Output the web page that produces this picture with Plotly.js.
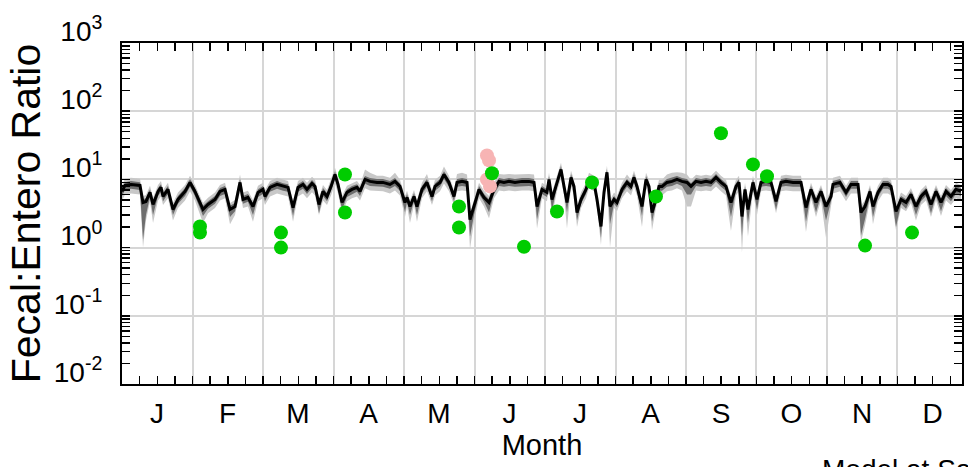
<!DOCTYPE html>
<html>
<head>
<meta charset="utf-8">
<script src="https://cdn.plot.ly/plotly-3.0.1.min.js"></script>
<style>html,body{margin:0;padding:0;background:#fff;}#chart{width:968px;height:467px;}</style>
</head>
<body>
<div id="chart"></div>
<script>
// x positions in months from start of year
const monthPos = [
0.000,0.043,0.128,0.255,0.298,0.340,0.397,0.440,0.511,0.553,0.582,0.652,0.723,0.794,0.894,0.965,1.035,1.149,1.220,1.319,1.390,1.461,1.532,1.603,1.674,1.716,1.787,1.858,1.929,
2.000,2.028,2.099,2.199,2.284,2.355,2.426,2.496,2.567,2.624,2.695,2.738,2.794,2.851,2.908,2.965,3.021,3.064,3.121,3.191,3.262,3.333,3.376,3.447,3.518,3.617,3.702,3.801,3.872,3.943,4.014,
4.043,4.085,4.142,4.184,4.255,4.326,4.397,4.440,4.511,4.567,4.638,4.709,4.752,4.823,4.894,4.936,4.993,5.064,5.135,5.206,5.277,5.348,5.418,5.489,5.574,5.674,5.773,5.844,5.887,5.957,
6.028,6.057,6.099,6.170,6.227,6.270,6.312,6.369,6.411,6.454,6.511,6.582,6.624,6.695,6.738,6.794,6.837,6.879,6.922,6.979,7.021,7.092,7.163,7.220,7.262,7.305,7.376,7.433,7.475,7.518,7.574,7.617,7.660,7.730,7.801,7.872,7.943,8.014,
8.071,8.142,8.213,8.284,8.355,8.426,8.496,8.567,8.638,8.709,8.752,8.794,8.837,8.879,8.950,9.007,9.064,9.135,9.206,9.277,9.348,9.418,9.518,9.631,9.702,9.773,9.844,9.915,9.986,
10.057,10.085,10.184,10.270,10.340,10.440,10.482,10.539,10.610,10.652,10.723,10.794,10.865,10.908,10.979,11.050,11.121,11.191,11.262,11.333,11.404,11.475,11.546,11.617,11.688,11.759,11.830,11.901];

// model median Fecal:Entero ratio
const modelMedian = [
6.66,8.16,8.44,8.16,4.59,4.75,6.44,4.29,6.66,7.63,5.62,7.13,3.62,5.08,6.66,9.03,6.66,3.62,4.29,5.08,6.66,7.13,3.62,4.01,9.03,5.08,5.43,4.01,6.44,
7.13,5.62,7.63,8.44,7.89,7.63,3.87,7.63,8.44,7.13,8.73,7.89,4.29,6.66,5.62,7.89,11.8,8.44,4.59,6.44,7.13,7.63,6.66,10.0,9.35,9.03,9.03,8.44,9.35,7.89,4.59,
5.43,4.01,5.62,4.01,7.13,9.03,5.62,7.89,9.03,11.8,9.03,5.62,9.03,9.35,9.03,2.58,4.01,7.13,5.43,4.59,7.13,9.35,9.03,9.35,9.03,9.35,9.35,9.03,4.01,7.13,
6.44,10.0,5.08,9.03,14.0,7.89,4.59,10.7,7.89,3.27,5.08,7.13,10.0,9.03,5.08,2.04,6.44,12.7,4.01,5.08,4.59,7.13,9.03,7.89,10.7,7.89,4.01,10.0,7.89,3.27,5.08,7.89,7.89,9.03,9.35,10.0,9.35,9.03,
7.89,9.35,9.03,9.35,9.03,10.7,9.03,7.89,4.59,7.89,9.03,2.86,7.13,3.62,9.03,5.08,9.03,9.35,9.03,4.75,9.03,9.35,9.03,9.03,3.87,7.13,4.59,6.66,4.01,
5.62,8.44,9.03,6.44,8.44,8.44,3.27,4.01,6.66,4.01,6.44,8.44,8.44,7.89,3.38,5.08,4.59,6.02,4.01,5.62,6.66,4.29,6.66,4.59,6.66,5.62,7.13,6.66];

// outer (light) band
const outerLow = [
4.9,6.0,6.2,6.0,1.0,2.5,4.8,2.3,4.9,5.6,4.2,5.3,2.5,3.8,4.9,6.7,4.9,2.3,3.2,3.8,4.9,5.3,2.2,3.0,6.7,3.8,4.0,2.4,4.8,
5.3,4.2,5.6,6.2,5.8,5.6,2.4,5.6,6.2,5.3,6.5,5.8,3.0,4.9,4.2,5.8,8.7,6.2,3.2,4.8,5.3,5.6,4.9,7.4,6.9,6.7,6.7,6.2,6.9,5.8,2.8,
4.0,2.3,4.2,2.4,5.3,6.7,4.2,5.8,6.7,8.7,6.7,4.2,6.7,6.9,6.7,0.95,2.4,5.3,4.0,2.7,5.3,6.9,6.7,6.9,6.7,6.9,6.9,6.7,1.9,5.3,
4.8,7.4,2.9,6.7,10.4,5.8,1.9,7.9,5.8,2.0,3.8,5.3,7.4,6.7,3.8,1.1,4.8,9.4,1.0,3.8,3.4,5.3,6.7,5.8,7.9,5.8,2.0,7.4,5.8,1.8,3.8,5.8,5.8,6.7,6.9,7.4,6.9,4.0,
4.0,6.9,6.7,6.9,6.7,7.9,6.7,5.8,1.75,5.8,6.7,0.85,5.3,1.45,6.7,3.0,6.7,6.9,6.7,3.2,6.7,6.9,6.7,6.7,1.7,5.3,2.8,4.9,1.4,
4.2,6.2,6.7,4.8,6.2,6.2,1.2,2.1,4.9,2.2,4.8,6.2,6.2,5.8,1.8,3.8,3.4,4.5,2.5,4.2,4.9,2.8,4.9,2.9,4.9,4.2,5.3,4.9];
const outerHigh = [
8.3,10.2,10.6,10.2,5.7,5.9,8.1,5.4,8.3,9.5,7.0,8.9,4.5,6.4,8.3,11.3,8.3,4.5,5.4,6.4,8.3,8.9,4.5,5.0,11.8,6.4,6.8,5.0,8.1,
8.9,7.0,9.5,10.6,9.9,9.5,4.8,9.5,10.6,8.9,10.9,9.9,5.4,8.3,7.0,9.9,14.8,10.6,5.7,8.1,8.9,9.5,8.3,14.0,12.5,11.3,11.3,10.6,12.5,9.9,5.7,
6.8,5.0,7.0,5.0,8.9,12.0,7.0,9.9,11.3,15.5,11.3,7.0,12.0,12.5,11.8,3.2,5.0,8.9,6.8,5.7,8.9,12.0,11.8,12.0,11.8,12.0,12.0,11.8,5.0,8.9,
8.1,12.5,6.4,11.3,17.5,9.9,5.7,13.4,9.9,4.1,6.4,8.9,12.5,11.3,6.4,2.6,8.1,15.9,5.0,6.4,5.7,8.9,11.8,9.9,13.4,9.9,5.0,12.5,9.9,4.1,6.4,9.9,9.9,11.8,12.5,12.7,12.5,11.8,
9.9,11.7,11.3,11.7,11.3,13.4,11.3,9.9,5.7,9.9,11.3,3.6,8.9,4.5,11.3,6.4,11.3,11.7,11.3,5.9,11.3,11.7,11.3,11.3,4.8,8.9,5.7,8.3,5.0,
7.0,10.6,11.3,8.1,10.6,10.6,4.1,5.0,8.3,5.0,8.1,10.6,10.6,9.9,4.2,6.4,5.7,7.5,5.0,7.0,8.3,5.4,8.3,5.7,8.3,7.0,8.9,8.3];

// inner (dark) band
const innerLow = [
5.7,7.0,7.3,7.0,1.3,3.0,5.5,3.0,5.7,6.6,4.8,6.1,3.0,4.4,5.7,7.8,5.7,2.9,3.7,4.4,5.7,6.1,2.8,3.4,7.8,4.4,4.7,3.0,5.5,
6.1,4.8,6.6,7.3,6.8,6.6,2.9,6.6,7.3,6.1,7.5,6.8,3.2,5.7,4.8,6.8,10.1,7.3,3.6,5.5,6.1,6.6,5.7,8.6,8.0,7.8,7.8,7.3,8.0,6.8,3.3,
4.7,3.0,4.8,3.0,6.1,7.8,4.8,6.8,7.8,10.1,7.8,4.8,7.8,8.0,7.8,1.45,3.0,6.1,4.7,3.3,6.1,8.0,7.8,8.0,7.8,8.0,8.0,7.8,2.6,6.1,
5.5,8.6,3.5,7.8,12.0,6.8,3.3,9.2,6.8,2.5,4.4,6.1,8.6,7.8,4.4,1.4,5.5,10.9,2.2,4.4,3.9,6.1,7.8,6.8,9.2,6.8,2.9,8.6,6.8,2.4,4.4,6.8,6.8,7.8,8.0,8.6,8.0,6.0,
6.0,8.0,7.8,8.0,7.8,9.2,7.8,6.8,2.8,6.8,7.8,1.5,6.1,2.3,7.8,3.6,7.8,8.0,7.8,3.6,7.8,8.0,7.8,7.8,2.4,6.1,3.3,5.7,2.5,
4.8,7.3,7.8,5.5,7.3,7.3,1.5,2.6,5.7,2.8,5.5,7.3,7.3,6.8,2.0,4.4,3.7,5.2,3.0,4.8,5.7,3.2,5.7,3.4,5.7,4.8,6.1,5.7];
const innerHigh = [
7.5,9.1,9.5,9.1,5.1,5.3,7.2,4.8,7.5,8.5,6.3,8.0,4.1,5.7,7.5,10.1,7.5,4.1,4.8,5.7,7.5,8.0,4.1,4.5,10.1,5.7,6.1,4.5,7.2,
8.0,6.3,8.5,9.5,8.8,8.5,4.3,8.5,9.5,8.0,9.8,8.8,4.8,7.5,6.3,8.8,13.2,9.5,5.1,7.2,8.0,8.5,7.5,11.2,10.5,10.1,10.1,9.5,10.5,8.8,5.1,
6.1,4.5,6.3,4.5,8.0,10.1,6.3,8.8,10.1,13.2,10.1,6.3,10.1,10.5,10.1,2.9,4.5,8.0,6.1,5.1,8.0,10.5,10.1,10.5,10.1,10.5,10.5,10.1,4.5,8.0,
7.2,11.2,5.7,10.1,15.7,8.8,5.1,12.0,8.8,3.7,5.7,8.0,11.2,10.1,5.7,2.3,7.2,14.2,4.5,5.7,5.1,8.0,10.1,8.8,12.0,8.8,4.5,11.2,8.8,3.7,5.7,8.8,8.8,10.1,10.5,11.2,10.5,10.1,
8.8,10.5,10.1,10.5,10.1,12.0,10.1,8.8,5.1,8.8,10.1,3.2,8.0,4.1,10.1,5.7,10.1,10.5,10.1,5.3,10.1,10.5,10.1,10.1,4.3,8.0,5.1,7.5,4.5,
6.3,9.5,10.1,7.2,9.5,9.5,3.7,4.5,7.5,4.5,7.2,9.5,9.5,8.8,3.8,5.7,5.1,6.7,4.5,6.3,7.5,4.8,7.5,5.1,7.5,6.3,8.0,7.5];

// observed samples (green)
const obsMonth = [1.106,1.106,2.255,2.255,3.163,3.163,4.780,4.780,5.248,5.702,6.170,6.667,7.574,8.496,8.950,9.149,10.540,11.206];
const obsRatio = [2.04,1.66,1.66,1.00,11.8,3.27,4.01,1.97,12.3,1.03,3.38,9.03,5.62,47.5,16.6,11.1,1.07,1.66];

// other samples (pink)
const pinkMonth = [5.177,5.206,5.177,5.220];
const pinkRatio = [22.5,19.0,10.0,7.89];

// axis labels
const monthTickVals = [0,1,2,3,4,5,6,7,8,9,10,11];
const monthLabels = ['J','F','M','A','M','J','J','A','S','O','N','D'];
const yTickVals = [0.01,0.1,1,10,100,1000];
const yTickText = ['10<sup>-2</sup>','10<sup>-1</sup>','10<sup>0</sup>','10<sup>1</sup>','10<sup>2</sup>','10<sup>3</sup>'];

const FONT = 'Liberation Sans, Arial, Helvetica, sans-serif';

const traces = [
  {x: monthPos, y: outerLow, mode: 'lines', line: {width: 0, color: '#c8c8c8'}, hoverinfo: 'skip', showlegend: false},
  {x: monthPos, y: outerHigh, mode: 'lines', line: {width: 0, color: '#c8c8c8'}, fill: 'tonexty', fillcolor: '#c8c8c8', hoverinfo: 'skip', showlegend: false},
  {x: monthPos, y: innerLow, mode: 'lines', line: {width: 0, color: '#6e6e6e'}, hoverinfo: 'skip', showlegend: false},
  {x: monthPos, y: innerHigh, mode: 'lines', line: {width: 0, color: '#6e6e6e'}, fill: 'tonexty', fillcolor: '#6e6e6e', hoverinfo: 'skip', showlegend: false},
  {x: monthPos, y: modelMedian, mode: 'lines', line: {width: 3, color: '#000000'}, showlegend: false},
  {x: pinkMonth, y: pinkRatio, mode: 'markers', marker: {size: 14, color: '#f7b4b4'}, showlegend: false},
  {x: obsMonth, y: obsRatio, mode: 'markers', marker: {size: 14, color: '#00cc00'}, showlegend: false}
];

const layout = {
  width: 968, height: 467,
  margin: {l: 122, r: 6, t: 43, b: 83, pad: 0},
  paper_bgcolor: '#ffffff', plot_bgcolor: '#ffffff',
  font: {family: FONT, color: '#000000'},
  showlegend: false,
  xaxis: {
    range: [0, 11.915], tickmode: 'array', tickvals: monthTickVals, ticktext: monthLabels,
    ticklabelshift: 35, ticklabelstandoff: 3,
    ticks: 'inside', ticklen: 8, tickwidth: 1.5, tickcolor: '#000',
    showgrid: true, gridcolor: '#d6d6d6', gridwidth: 2,
    showline: true, linecolor: '#000', linewidth: 2, mirror: 'ticks', zeroline: false,
    minor: {tickmode: 'linear', tick0: 0, dtick: 0.25, ticks: 'inside', ticklen: 8, tickwidth: 1.5, tickcolor: '#000', showgrid: false},
    tickfont: {size: 28, family: FONT, color: '#000'},
    title: {text: 'Month', font: {size: 29, family: FONT, color: '#000'}, standoff: 4}
  },
  yaxis: {
    type: 'log', range: [-2, 3], tickmode: 'array', tickvals: yTickVals, ticktext: yTickText,
    ticklabelshift: -12, ticklabelstandoff: 12,
    ticks: 'inside', ticklen: 8, tickwidth: 1.5, tickcolor: '#000',
    showgrid: true, gridcolor: '#d6d6d6', gridwidth: 2,
    showline: true, linecolor: '#000', linewidth: 2, mirror: 'ticks', zeroline: false,
    minor: {tickmode: 'linear', dtick: 'D1', ticks: 'inside', ticklen: 8, tickwidth: 1.5, tickcolor: '#000', showgrid: false},
    tickfont: {size: 28, family: FONT, color: '#000'},
    title: {text: 'Fecal:Entero Ratio', font: {size: 41, family: FONT, color: '#000'}, standoff: 0}
  },
  annotations: [
    {text: 'Model at Sa', xref: 'paper', yref: 'paper', x: 0.831, y: -0.2, xanchor: 'left', yanchor: 'top',
     showarrow: false, font: {size: 28, family: FONT, color: '#000'}}
  ]
};

Plotly.newPlot('chart', traces, layout, {displayModeBar: false, staticPlot: true});
</script>
</body>
</html>
